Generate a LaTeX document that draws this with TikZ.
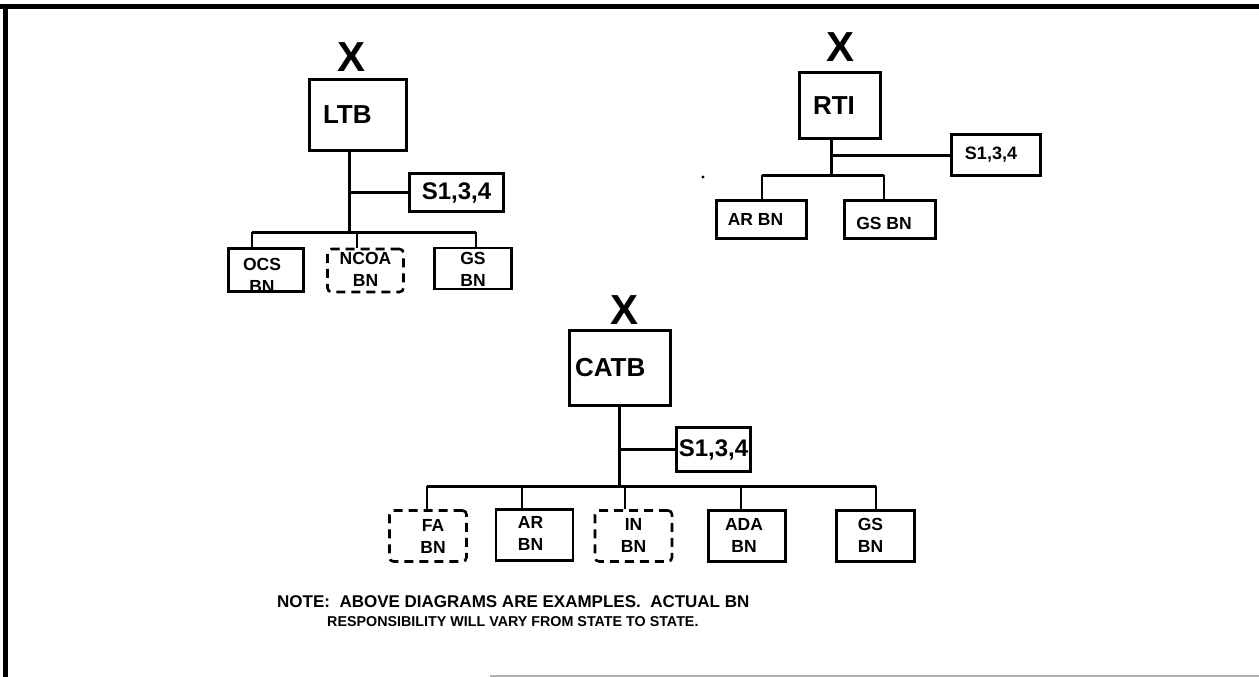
\documentclass[tikz,border=0pt]{standalone}
\usepackage{fontspec}
\setmainfont{Liberation Sans}
\usetikzlibrary{positioning}
\newcommand{\bfs}[1]{\fontsize{#1}{#1}\selectfont\bfseries}
\newcommand{\bnfont}{\fontsize{17.5}{22}\selectfont\bfseries}

\begin{document}
\begin{tikzpicture}[x=1pt,y=-1pt,
    every node/.style={font=\bfs{17}},
    every label/.style={font=\bnfont,align=center,inner sep=0pt},
    box/.style={draw,line width=3pt,inner sep=0pt},
    topbox/.style={box,align=left},
    sbox/.style={box},
    unit/.style={draw,line width=2.6pt,inner sep=0pt},
    dunit/.style={unit,dash pattern=on 9pt off 6pt,rounded corners=4pt},
    link/.style={line width=3pt},
    drop/.style={line width=2.5pt}]
  \useasboundingbox (0,0) rectangle (1259,677);
  \draw[line width=5pt] (0,6.5) -- (1259,6.5);
  \draw[line width=5pt] (5.5,4) -- (5.5,677);
  \draw[gray!60,line width=1.5pt] (490,676) -- (1259,676);
  \fill (703,177) circle (1.6pt);
  \begin{scope}
    \node[font=\bfs{42}] (ltbx) at (352,57) {X};
    \node[topbox,minimum height=71pt,text width=69pt,inner xsep=14pt,font=\bfs{26}] (ltb) at (357.5,115) {LTB};
    \node[sbox,minimum width=94pt,minimum height=38pt,font=\bfs{24}] (ltbs) at (456.5,192.5) {S1,3,4};
    \node[unit,minimum width=75pt,minimum height=43pt,label={[xshift=-4pt,yshift=-5pt]center:OCS\\BN}] (ocs) at (266,270) {};
    \node[dunit,minimum width=76pt,minimum height=43pt,label={[yshift=1pt]center:NCOA\\BN}] (ncoa) at (365.5,270.5) {};
    \node[unit,minimum width=77pt,minimum height=41pt,label={[yshift=-1pt]center:GS\\BN}] (ltbgs) at (473,268.5) {};
    \coordinate (ltbbus) at (349,232);
    \coordinate (ltbl) at (252,232);
    \coordinate (ltbm) at (357,232);
    \coordinate (ltbr) at (476,232);
    \draw[link] (ltb.south -| ltbbus) -- (ltbbus);
    \draw[link] (ltbs.west) -- (ltbs.west -| ltbbus);
    \draw[link] (ltbl) -- (ltbr);
    \draw[drop] (ltbl) -- (ltbl |- ocs.north);
    \draw[drop] (ltbm) -- (ltbm |- ncoa.north);
    \draw[drop] (ltbr) -- (ltbr |- ltbgs.north);
  \end{scope}
  \begin{scope}
    \node[font=\bfs{42}] (rtix) at (840,47.5) {X};
    \node[topbox,minimum height=66pt,text width=54pt,inner xsep=13.5pt,font=\bfs{26}] (rti) at (840,105.5) {RTI};
    \node[sbox,minimum width=89pt,minimum height=41pt,label={[font=\bfs{18},xshift=-5pt]center:S1,3,4}] (rtis) at (996,155) {};
    \node[unit,minimum width=90pt,minimum height=38pt,label={[xshift=-6pt]center:AR BN}] (rtiar) at (761.5,219.5) {};
    \node[unit,minimum width=91pt,minimum height=38pt,label={[xshift=-6pt,yshift=-4pt]center:GS BN}] (rtigs) at (890,219.5) {};
    \coordinate (rtibus) at (831,175);
    \coordinate (rtil) at (762,175);
    \coordinate (rtir) at (884,175);
    \draw[link] (rti.south -| rtibus) -- (rtibus);
    \draw[link] (rtis.west) -- (rtis.west -| rtibus);
    \draw[link] (rtil) -- (rtir);
    \draw[drop] (rtil) -- (rtil |- rtiar.north);
    \draw[drop] (rtir) -- (rtir |- rtigs.north);
  \end{scope}
  \begin{scope}
    \node[font=\bfs{42}] (catbx) at (624.5,310) {X};
    \node[topbox,minimum height=75pt,text width=90pt,inner xsep=5.5pt,font=\bfs{26}] (catb) at (620,368) {CATB};
    \node[sbox,minimum width=74pt,minimum height=44pt,font=\bfs{24}] (catbs) at (713.5,449.5) {S1,3,4};
    \node[dunit,minimum width=77pt,minimum height=51pt,label={[xshift=5pt]center:FA\\BN}] (fa) at (428,536) {};
    \node[unit,minimum width=77pt,minimum height=51pt,label={[xshift=-4pt,yshift=2pt]center:AR\\BN}] (ar) at (534.5,535) {};
    \node[dunit,minimum width=77pt,minimum height=51pt,label={[yshift=1pt]center:IN\\BN}] (in) at (633.5,536) {};
    \node[unit,minimum width=77pt,minimum height=51pt,label={[xshift=-3pt,yshift=1pt]center:ADA\\BN}] (ada) at (747,536) {};
    \node[unit,minimum width=78pt,minimum height=51pt,label={[xshift=-5pt,yshift=1pt]center:GS\\BN}] (catbgs) at (875.5,536) {};
    \coordinate (catbbus) at (619,486);
    \coordinate (cfa) at (427,486);
    \coordinate (car) at (522,486);
    \coordinate (cin) at (625,486);
    \coordinate (cada) at (741,486);
    \coordinate (cgs) at (876,486);
    \draw[link] (catb.south -| catbbus) -- (catbbus);
    \draw[link] (catbs.west) -- (catbs.west -| catbbus);
    \draw[link] (cfa) -- (cgs);
    \draw[drop] (cfa) -- (cfa |- fa.north);
    \draw[drop] (car) -- (car |- ar.north);
    \draw[drop] (cin) -- (cin |- in.north);
    \draw[drop] (cada) -- (cada |- ada.north);
    \draw[drop] (cgs) -- (cgs |- catbgs.north);
  \end{scope}
  \node[anchor=base west,inner sep=0pt,font=\bfs{17}] (notea) at (277,607) {NOTE:\ \ ABOVE DIAGRAMS ARE EXAMPLES.\ \ ACTUAL BN};
  \node[anchor=base west,inner sep=0pt,font=\bfs{14.3}] (noteb) at (327,626) {RESPONSIBILITY WILL VARY FROM STATE TO STATE.};
\end{tikzpicture}
\end{document}
